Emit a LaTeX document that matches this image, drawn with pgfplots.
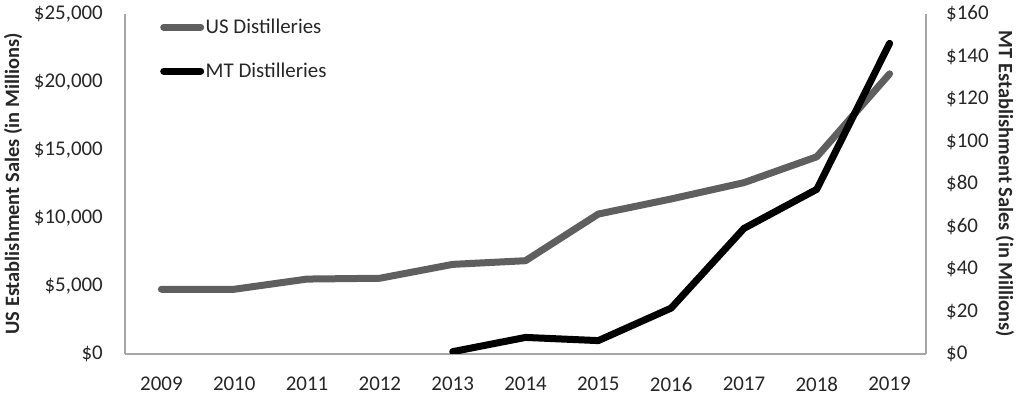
\documentclass[border=0pt]{standalone}
\usepackage{pgfplots}
\pgfplotsset{compat=1.18}
\usepackage{fontspec}
\setmainfont{Carlito}
\definecolor{usgray}{HTML}{5F5F5F}
\definecolor{axgray}{HTML}{A6A6A6}
\definecolor{txt}{HTML}{262626}
\begin{document}
\begin{tikzpicture}
\pgfplotsset{
 base/.style={scale only axis, width=801bp, height=340bp, at={(0,0)}, anchor=south west,
  xmin=2008.5, xmax=2019.5, ymin=0, scaled y ticks=false, scaled x ticks=false,
  major tick length=0pt, tick style={draw=none},
  tick label style={font=\fontsize{21}{25}\selectfont, text=txt, inner sep=0pt},
  axis line style={axgray, line width=1.3bp},
  label style={font=\bfseries\fontsize{20.5}{24}\selectfont, text=txt},
 }
}
\begin{axis}[base, ymax=25000, axis x line*=bottom, axis y line*=left,
 xtick={2009,2010,2011,2012,2013,2014,2015,2016,2017,2018,2019},
 xticklabels={2009,2010,2011,2012,2013,2014,2015,2016,2017,2018,2019},
 ytick={0,5000,10000,15000,20000,25000},
 yticklabels={\$0,{\$5,000},{\$10,000},{\$15,000},{\$20,000},{\$25,000}},
 xticklabel style={anchor=north, yshift=-23bp},
 yticklabel style={anchor=east, xshift=-22bp},
 ylabel={US Establishment Sales (in Millions)},
 ylabel style={at={(axis description cs:-0.1398,0.5)}, anchor=center},
 legend style={draw=none, fill=none, inner sep=0pt, at={(axis description cs:0.0437,0.99)}, anchor=north west,
   font=\fontsize{21}{25}\selectfont, text=txt, row sep=25bp, column sep=0pt, nodes={inner sep=1.5bp}},
 legend cell align=left,
 legend image code/.code={\draw[#1] (0bp,0bp) -- (37bp,0bp);},
]
\addplot[usgray, line width=7bp, line cap=round, line join=round] coordinates {
(2009,4760) (2010,4760) (2011,5510) (2012,5570) (2013,6590) (2014,6860)
(2015,10290) (2016,11400) (2017,12600) (2018,14500) (2019,20600)};
\addlegendentry{US Distilleries}
\addlegendimage{black, line width=7bp, line cap=round}
\addlegendentry{MT Distilleries}
\end{axis}
\begin{axis}[base, ymax=160, axis x line=none, axis y line*=right,
 ytick={0,20,40,60,80,100,120,140,160},
 yticklabels={\$0,\$20,\$40,\$60,\$80,\$100,\$120,\$140,\$160},
 yticklabel style={anchor=west, xshift=20bp},
 ylabel={MT Establishment Sales (in Millions)},
 ylabel style={at={(axis description cs:1.0986,0.5)}, anchor=center, rotate=180},
]
\addplot[black, line width=7bp, line cap=round, line join=round] coordinates {
(2013,1.1) (2014,7.8) (2015,6.3) (2016,21.6) (2017,59.1) (2018,77.5) (2019,146.2)};
\end{axis}
\pgfresetboundingbox
\path (-125bp,-44bp) rectangle (896bp,354bp);
\end{tikzpicture}
\end{document}
